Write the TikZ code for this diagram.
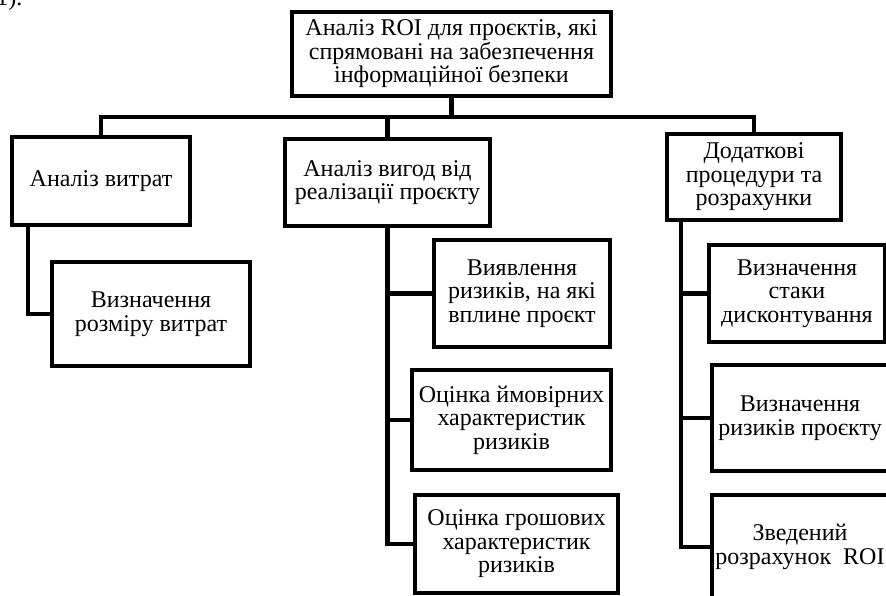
\documentclass[tikz,border=0pt]{standalone}
\usepackage{fontspec}
\setmainfont{Liberation Serif}
\begin{document}
\begin{tikzpicture}[x=1pt,y=-1pt,
  line width=4.5pt,main box/.style={rectangle,draw,align=center,inner sep=1pt,font=\fontsize{24}{23.5}\selectfont}]

  \clip (0,0) rectangle (886,596);
  \node[anchor=base east,font=\fontsize{24}{23.5}\selectfont] (fig) at (28,6) {1).};

  % top level
  \node[main box,minimum width=319,minimum height=84] (top) at (451.5,54) {Аналіз ROI для проєктів, які\\спрямовані на забезпечення\\інформаційної безпеки};

  % second level
  \node[main box,minimum width=178,minimum height=88] (cost) at (101,181) {Аналіз витрат};
  \node[main box,minimum width=205,minimum height=87] (benefit) at (387.5,182.5) {Аналіз вигод від\\реалізації проєкту};
  \node[main box,minimum width=174,minimum height=86] (extra) at (754,177) {Додаткові\\процедури та\\розрахунки};

  % third level
  \node[main box,minimum width=198,minimum height=104] (costsize) at (151,314) {Визначення\\розміру витрат};

  \node[main box,minimum width=176,minimum height=107] (risk1) at (522,293.5) {Виявлення\\ризиків, на які\\вплине проєкт};
  \node[main box,minimum width=199,minimum height=100] (risk2) at (511.5,420) {Оцінка ймовірних\\характеристик\\ризиків};
  \node[main box,minimum width=203,minimum height=98] (risk3) at (516.5,544) {Оцінка грошових\\характеристик\\ризиків};

  \node[main box,minimum width=176,minimum height=97] (rate) at (797,293.5) {Визначення\\стаки\\дисконтування};
  \node[main box,minimum width=176,minimum height=106] (prisk) at (800,418) {Визначення\\ризиків проєкту};
  \node[main box,minimum width=176,minimum height=104] (roi) at (800,547) {Зведений\\розрахунок~ ROI};

  \draw (top.south) -- ++(0,19) -| (cost.north);
  \draw (top.south) -- ++(0,19) -| (benefit.north);
  \draw (top.south) -- ++(0,19) -| (extra.north);

  \draw ([xshift=18pt]cost.south west) |- (costsize.west);

  \draw (benefit.south) |- (risk1.west);
  \draw (benefit.south) |- (risk2.west);
  \draw (benefit.south) |- (risk3.west);

  \draw ([xshift=16pt]extra.south west) |- (rate.west);
  \draw ([xshift=16pt]extra.south west) |- (prisk.west);
  \draw ([xshift=16pt]extra.south west) |- (roi.west);
\end{tikzpicture}
\end{document}
